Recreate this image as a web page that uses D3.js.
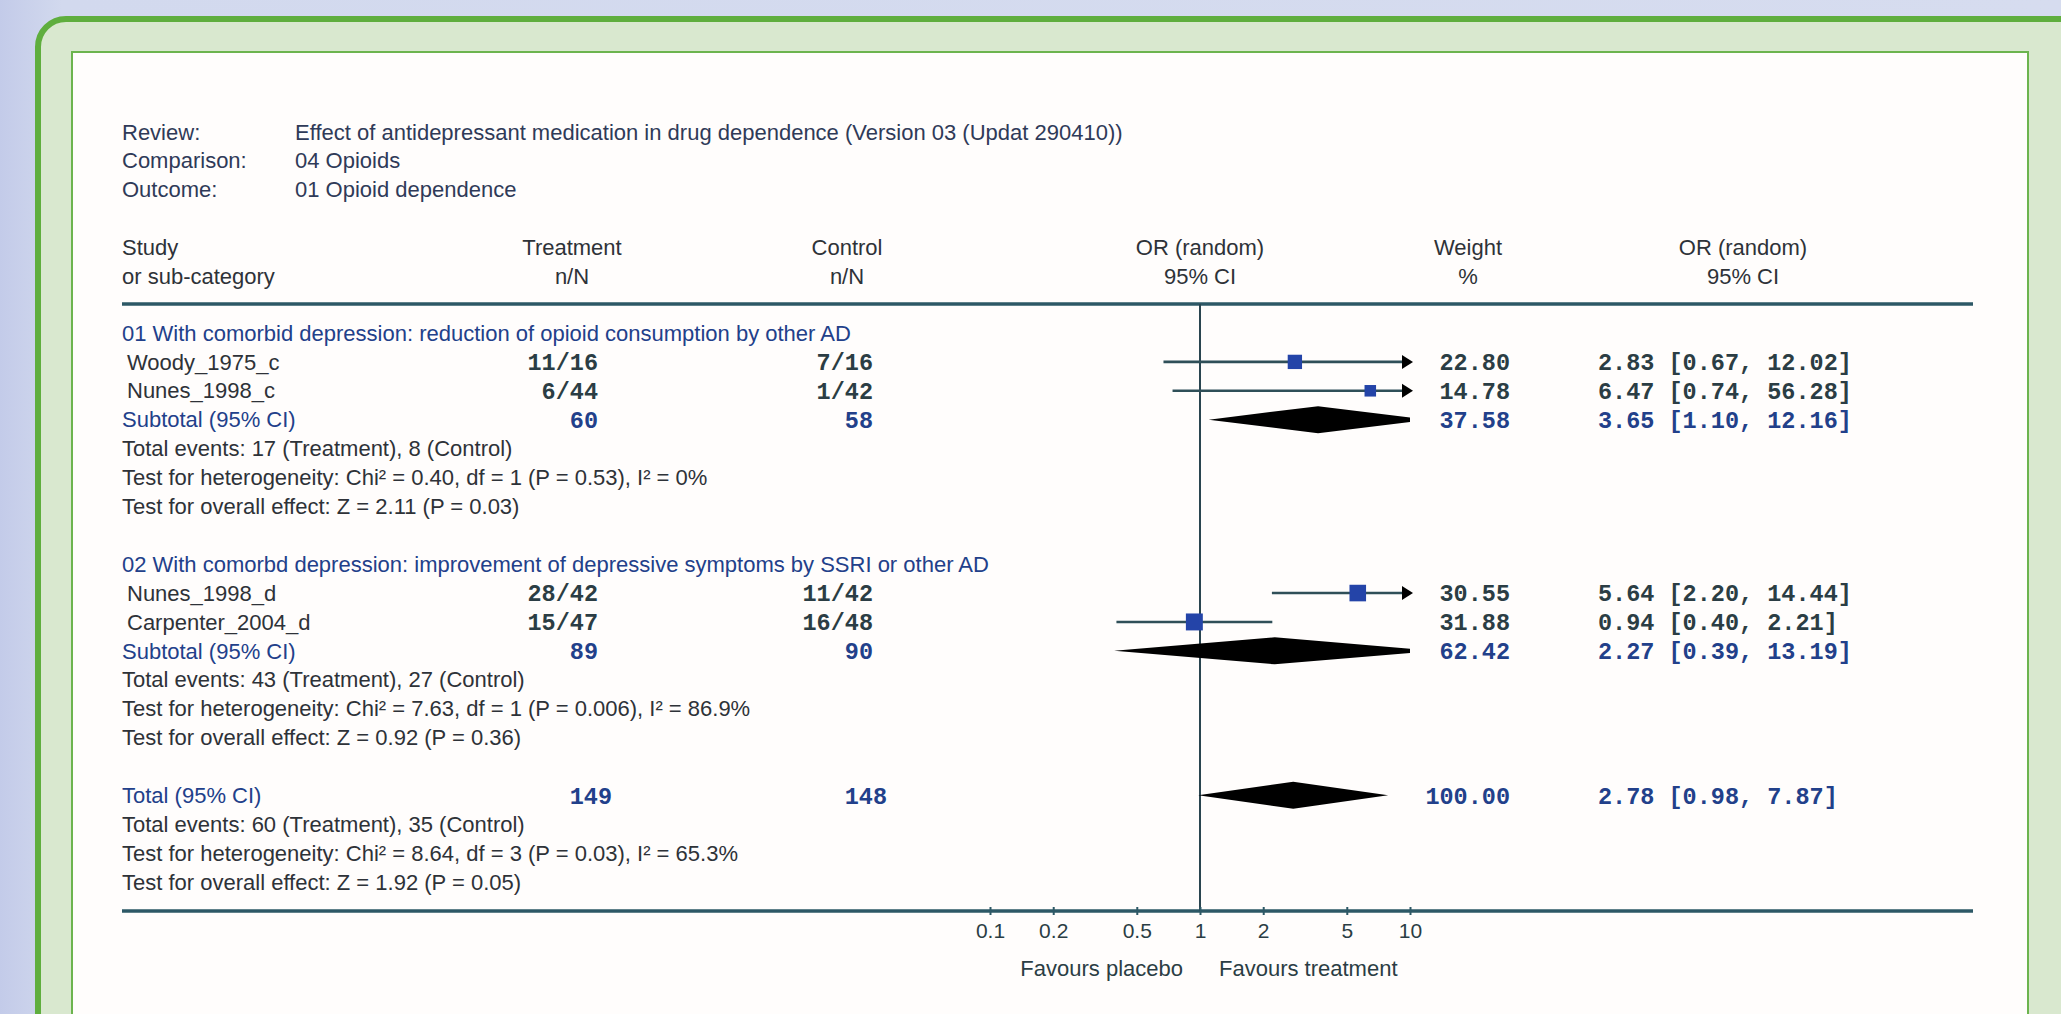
<!DOCTYPE html>
<html>
<head>
<meta charset="utf-8">
<script src="https://cdn.jsdelivr.net/npm/d3@7"></script>
<style>
  body { margin: 0; overflow: hidden; background: #d4dbef; }
  text { font-family: "Liberation Sans", Arial, sans-serif; }
  .mono { font-family: "Liberation Mono", "Courier New", monospace; font-weight: bold; }
</style>
</head>
<body>
<div id="chart"></div>
<script>
// ---- data ----
var metaLabels = ["Review:", "Comparison:", "Outcome:"];
var metaValues = ["Effect of antidepressant medication in drug dependence (Version 03 (Updat 290410))", "04 Opioids", "01 Opioid dependence"];

var groupTitles = ["01 With comorbid depression: reduction of opioid consumption by other AD",
                   "02 With comorbd depression: improvement of depressive symptoms by SSRI or other AD"];

var studyNames   = ["Woody_1975_c", "Nunes_1998_c", "Nunes_1998_d", "Carpenter_2004_d"];
var studyGroup   = [0, 0, 1, 1];
var treatEvents  = [11, 6, 28, 15];
var treatTotal   = [16, 44, 42, 47];
var ctrlEvents   = [7, 1, 11, 16];
var ctrlTotal    = [16, 42, 42, 48];
var studyWeight  = [22.80, 14.78, 30.55, 31.88];
var studyOR      = [2.83, 6.47, 5.64, 0.94];
var studyLow     = [0.67, 0.74, 2.20, 0.40];
var studyHigh    = [12.02, 56.28, 14.44, 2.21];

var subTreatN  = [60, 89];
var subCtrlN   = [58, 90];
var subWeight  = [37.58, 62.42];
var subOR      = [3.65, 2.27];
var subLow     = [1.10, 0.39];
var subHigh    = [12.16, 13.19];
var subStats = [
  ["Total events: 17 (Treatment), 8 (Control)",
   "Test for heterogeneity: Chi\u00b2 = 0.40, df = 1 (P = 0.53), I\u00b2 = 0%",
   "Test for overall effect: Z = 2.11 (P = 0.03)"],
  ["Total events: 43 (Treatment), 27 (Control)",
   "Test for heterogeneity: Chi\u00b2 = 7.63, df = 1 (P = 0.006), I\u00b2 = 86.9%",
   "Test for overall effect: Z = 0.92 (P = 0.36)"]
];

var totalTreatN = 149, totalCtrlN = 148;
var totalWeight = 100.00, totalOR = 2.78, totalLow = 0.98, totalHigh = 7.87;
var totalStats = ["Total events: 60 (Treatment), 35 (Control)",
                  "Test for heterogeneity: Chi\u00b2 = 8.64, df = 3 (P = 0.03), I\u00b2 = 65.3%",
                  "Test for overall effect: Z = 1.92 (P = 0.05)"];

var tickValues = [0.1, 0.2, 0.5, 1, 2, 5, 10];
var favourLeft = "Favours placebo", favourRight = "Favours treatment";

// ---- layout ----
var W = 2061, H = 1014;
var colLeft = 122, colIndent = 127, colMeta = 295;
var colTreatR = 598, colCtrlR = 873, colTreatHead = 572, colCtrlHead = 847;
var colWeightR = 1510, colWeightHead = 1468, colCiL = 1598, colCiHead = 1743, colOrHead = 1200;
var ruleRight = 1973, ruleTop = 304, axisY = 911;

var textDark = "#2e3238", textBlue = "#22408a", monoDark = "#2b3d44", lineCol = "#2d5866";

var fmt2 = d3.format(".2f");
function ciText(o, l, h) { return fmt2(o) + " [" + fmt2(l) + ", " + fmt2(h) + "]"; }

// build row list
var rows = [];
var r = 0;
groupTitles.forEach(function(g, gi) {
  rows.push({type: "group", idx: r++, label: g});
  studyNames.forEach(function(n, si) {
    if (studyGroup[si] !== gi) return;
    rows.push({type: "study", idx: r++, label: n,
      treat: treatEvents[si] + "/" + treatTotal[si], ctrl: ctrlEvents[si] + "/" + ctrlTotal[si],
      w: studyWeight[si], or: studyOR[si], lo: studyLow[si], hi: studyHigh[si]});
  });
  rows.push({type: "sub", idx: r++, label: "Subtotal (95% CI)", treat: "" + subTreatN[gi], ctrl: "" + subCtrlN[gi],
    w: subWeight[gi], or: subOR[gi], lo: subLow[gi], hi: subHigh[gi]});
  subStats[gi].forEach(function(s) { rows.push({type: "stat", idx: r++, label: s}); });
  r++; // blank row
});
rows.push({type: "total", idx: r++, label: "Total (95% CI)", treat: "" + totalTreatN, ctrl: "" + totalCtrlN,
  w: totalWeight, or: totalOR, lo: totalLow, hi: totalHigh});
totalStats.forEach(function(s) { rows.push({type: "stat", idx: r++, label: s}); });

var y = d3.scaleLinear().domain([0, r - 1]).range([333, 882]);
var x = d3.scaleLog().domain([0.1, 10]).range([990, 1410]);
var boxSize = d3.scaleSqrt().domain([0, 100]).range([0, 30]);
var metaY = d3.scaleLinear().domain([0, 2]).range([132, 189]);

var svg = d3.select("#chart").append("svg").attr("width", W).attr("height", H);

// background frame
var defs = svg.append("defs");
var grad = defs.append("linearGradient").attr("id", "bg").attr("x1", 0).attr("x2", 1).attr("y1", 0).attr("y2", 0);
grad.append("stop").attr("offset", "0").attr("stop-color", "#c3cbe9");
grad.append("stop").attr("offset", "0.03").attr("stop-color", "#d2d9ee");
grad.append("stop").attr("offset", "1").attr("stop-color", "#d6dcef");
svg.append("rect").attr("width", W).attr("height", H).attr("fill", "url(#bg)");
svg.append("rect").attr("x", 38).attr("y", 19).attr("width", 2100).attr("height", 1100).attr("rx", 28)
  .attr("fill", "#d9e8cf").attr("stroke", "#5fae3e").attr("stroke-width", 6);
svg.append("rect").attr("x", 72).attr("y", 52).attr("width", 2028 - 72).attr("height", 1100)
  .attr("fill", "#fffdfc").attr("stroke", "#6cb44e").attr("stroke-width", 2);

// meta header
var meta = svg.append("g").attr("font-size", 22).attr("fill", "#2f3a58");
meta.selectAll(".ml").data(metaLabels).enter().append("text")
  .attr("x", colLeft).attr("y", function(d, i) { return metaY(i); }).attr("dy", "0.35em").text(function(d) { return d; });
meta.selectAll(".mv").data(metaValues).enter().append("text")
  .attr("x", colMeta).attr("y", function(d, i) { return metaY(i); }).attr("dy", "0.35em").text(function(d) { return d; });

// column headers
var heads = [
  {x: colLeft, a: "start", t: ["Study", "or sub-category"]},
  {x: colTreatHead, a: "middle", t: ["Treatment", "n/N"]},
  {x: colCtrlHead, a: "middle", t: ["Control", "n/N"]},
  {x: colOrHead, a: "middle", t: ["OR (random)", "95% CI"]},
  {x: colWeightHead, a: "middle", t: ["Weight", "%"]},
  {x: colCiHead, a: "middle", t: ["OR (random)", "95% CI"]}
];
heads.forEach(function(h) {
  h.t.forEach(function(t, i) {
    svg.append("text").attr("x", h.x).attr("y", 247 + i * 29).attr("dy", "0.35em")
      .attr("text-anchor", h.a).attr("font-size", 22).attr("fill", textDark).text(t);
  });
});

// rules
svg.append("line").attr("x1", colLeft).attr("x2", ruleRight).attr("y1", ruleTop).attr("y2", ruleTop)
  .attr("stroke", lineCol).attr("stroke-width", 3.5);
svg.append("line").attr("x1", colLeft).attr("x2", ruleRight).attr("y1", axisY).attr("y2", axisY)
  .attr("stroke", lineCol).attr("stroke-width", 3.5);
svg.append("line").attr("x1", x(1)).attr("x2", x(1)).attr("y1", ruleTop).attr("y2", axisY)
  .attr("stroke", "#2a4550").attr("stroke-width", 2);

// row labels
var body = svg.append("g");
body.selectAll(".lab").data(rows).enter().append("text")
  .attr("x", function(d) { return d.type === "study" ? colIndent : colLeft; })
  .attr("y", function(d) { return y(d.idx); }).attr("dy", "0.35em").attr("font-size", 22)
  .attr("fill", function(d) { return d.type === "stat" || d.type === "study" ? textDark : textBlue; })
  .text(function(d) { return d.label; });

var numRows = rows.filter(function(d) { return d.treat !== undefined; });
function numCol(d) { return d.type === "study" ? monoDark : textBlue; }
// totals sit one character further right, as in the original
function shift(d) { return d.type === "total" ? 14 : 0; }
body.selectAll(".tr").data(numRows).enter().append("text").attr("class", "mono")
  .attr("x", function(d) { return colTreatR + shift(d); }).attr("y", function(d) { return y(d.idx); })
  .attr("dy", "0.35em").attr("text-anchor", "end").attr("font-size", 23.5).attr("fill", numCol)
  .text(function(d) { return d.treat; });
body.selectAll(".cr").data(numRows).enter().append("text").attr("class", "mono")
  .attr("x", function(d) { return colCtrlR + shift(d); }).attr("y", function(d) { return y(d.idx); })
  .attr("dy", "0.35em").attr("text-anchor", "end").attr("font-size", 23.5).attr("fill", numCol)
  .text(function(d) { return d.ctrl; });
body.selectAll(".wt").data(numRows).enter().append("text").attr("class", "mono")
  .attr("x", colWeightR).attr("y", function(d) { return y(d.idx); })
  .attr("dy", "0.35em").attr("text-anchor", "end").attr("font-size", 23.5).attr("fill", numCol)
  .text(function(d) { return fmt2(d.w); });
body.selectAll(".ci").data(numRows).enter().append("text").attr("class", "mono")
  .attr("x", colCiL).attr("y", function(d) { return y(d.idx); })
  .attr("dy", "0.35em").attr("font-size", 23.5).attr("fill", numCol)
  .text(function(d) { return ciText(d.or, d.lo, d.hi); });

// study CIs and squares
var studyRows = rows.filter(function(d) { return d.type === "study"; });
var xMin = x.domain()[0], xMax = x.domain()[1];
var plot = svg.append("g");
plot.selectAll(".cil").data(studyRows).enter().append("line")
  .attr("x1", function(d) { return x(Math.max(d.lo, xMin)); })
  .attr("x2", function(d) { return d.hi > xMax ? x(xMax) - 4 : x(d.hi); })
  .attr("y1", function(d) { return y(d.idx); }).attr("y2", function(d) { return y(d.idx); })
  .attr("stroke", "#2f4f58").attr("stroke-width", 2.6);
plot.selectAll(".arr").data(studyRows.filter(function(d) { return d.hi > xMax; })).enter().append("path")
  .attr("d", function(d) {
    var tx = x(xMax) + 3, ty = y(d.idx);
    return "M" + (tx - 11) + "," + (ty - 7) + "L" + tx + "," + ty + "L" + (tx - 11) + "," + (ty + 7) + "Z";
  }).attr("fill", "#000");
plot.selectAll(".sq").data(studyRows).enter().append("rect")
  .attr("x", function(d) { return x(d.or) - boxSize(d.w) / 2; })
  .attr("y", function(d) { return y(d.idx) - boxSize(d.w) / 2; })
  .attr("width", function(d) { return boxSize(d.w); }).attr("height", function(d) { return boxSize(d.w); })
  .attr("fill", "#2444a8");

// pooled diamonds, clipped to the axis range
defs.append("clipPath").attr("id", "plotclip").append("rect")
  .attr("x", x(xMin)).attr("y", ruleTop).attr("width", x(xMax) - x(xMin)).attr("height", axisY - ruleTop);
var pooled = rows.filter(function(d) { return d.type === "sub" || d.type === "total"; });
plot.append("g").attr("clip-path", "url(#plotclip)").selectAll(".dia").data(pooled).enter().append("path")
  .attr("d", function(d) {
    var yy = y(d.idx), h = 13.5;
    return "M" + x(d.lo) + "," + yy + "L" + x(d.or) + "," + (yy - h) + "L" + x(d.hi) + "," + yy +
           "L" + x(d.or) + "," + (yy + h) + "Z";
  }).attr("fill", "#000");

// axis
var axis = svg.append("g").attr("transform", "translate(0," + axisY + ")")
  .call(d3.axisBottom(x).tickValues(tickValues).tickFormat(d3.format("")).tickSize(4).tickPadding(8));
axis.select(".domain").remove();
axis.selectAll(".tick line").attr("stroke", lineCol).attr("stroke-width", 2).attr("y1", -4);
axis.selectAll(".tick text").attr("font-size", 21).attr("fill", "#2b3d44")
  .attr("font-family", "Liberation Sans, Arial, sans-serif");

svg.append("text").attr("x", x(1) - 17).attr("y", 968).attr("dy", "0.35em").attr("text-anchor", "end")
  .attr("font-size", 22).attr("fill", "#2b3d44").text(favourLeft);
svg.append("text").attr("x", x(1) + 19).attr("y", 968).attr("dy", "0.35em")
  .attr("font-size", 22).attr("fill", "#2b3d44").text(favourRight);
</script>
</body>
</html>
